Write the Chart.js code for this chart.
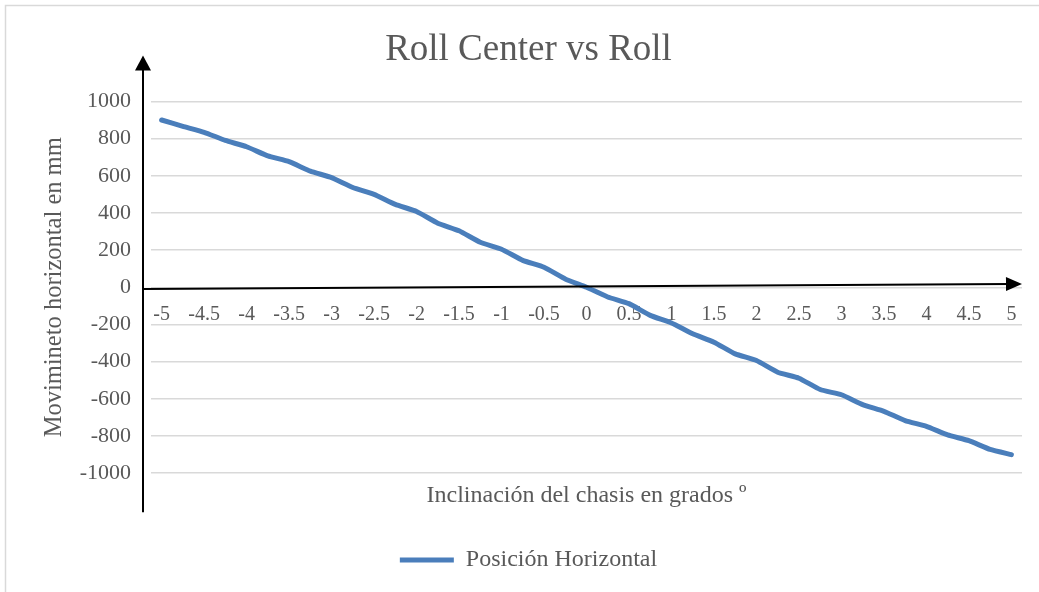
<!DOCTYPE html>
<html>
<head>
<meta charset="utf-8">
<script src="https://cdn.jsdelivr.net/npm/chart.js@4/dist/chart.umd.min.js"></script>
<style>
	html, body { margin: 0; padding: 0; background: #ffffff; }
	#wrap { width: 1039px; height: 592px; }
</style>
</head>
<body>
<div id="wrap"><canvas id="chart" width="1039" height="592"></canvas></div>
<script>
// grados de inclinación (cada 0.25)
const categories = [
	'-5', '-4.75', '-4.5', '-4.25', '-4', '-3.75', '-3.5', '-3.25', '-3', '-2.75',
	'-2.5', '-2.25', '-2', '-1.75', '-1.5', '-1.25', '-1', '-0.75', '-0.5', '-0.25',
	'0', '0.25', '0.5', '0.75', '1', '1.25', '1.5', '1.75', '2', '2.25',
	'2.5', '2.75', '3', '3.25', '3.5', '3.75', '4', '4.25', '4.5', '4.75', '5'
];

// etiquetas visibles del eje x (una de cada dos categorías)
const tickLabels = ['-5', '-4.5', '-4', '-3.5', '-3', '-2.5', '-2', '-1.5', '-1', '-0.5',
	'0', '0.5', '1', '1.5', '2', '2.5', '3', '3.5', '4', '4.5', '5'];

// movimiento horizontal del centro de balanceo, mm
const posicionHorizontal = [
	900, 866, 834, 790, 756, 707, 676, 625, 590, 537,
	500, 446, 408, 345, 304, 242, 205, 145, 108, 45,
	0, -52, -88, -151, -192, -250, -295, -358, -394, -457,
	-489, -550, -578, -631, -667, -717, -748, -794, -825, -872, -900
];

const yTicks = [1000, 800, 600, 400, 200, 0, -200, -400, -600, -800, -1000];

const serif = 'Liberation Serif, Times New Roman, serif';
const textColor = '#595959';

// fondo, borde del gráfico y flechas de los ejes
let decor = {
	id: 'decor',
	beforeDraw: (chart) => {
		let ctx = chart.ctx;
		ctx.save();
		ctx.fillStyle = '#ffffff';
		ctx.fillRect(0, 0, chart.width, chart.height);
		ctx.strokeStyle = '#d9d9d9';
		ctx.lineWidth = 1.5;
		ctx.strokeRect(5.5, 5.5, chart.width + 20, chart.height + 20);
		ctx.restore();
	},
	afterDatasetsDraw: (chart) => {
		let ctx = chart.ctx;
		let area = chart.chartArea;
		let y = chart.scales.y;
		let ax = area.left - 8;
		let zero = y.getPixelForValue(0);

		ctx.save();
		ctx.strokeStyle = '#000000';
		ctx.fillStyle = '#000000';
		ctx.lineWidth = 2;

		// eje vertical
		let top = y.getPixelForValue(1000) - 46;
		ctx.beginPath();
		ctx.moveTo(ax, y.getPixelForValue(-1000) + 39);
		ctx.lineTo(ax, top + 12);
		ctx.stroke();
		ctx.beginPath();
		ctx.moveTo(ax, top);
		ctx.lineTo(ax - 8, top + 15);
		ctx.lineTo(ax + 8, top + 15);
		ctx.closePath();
		ctx.fill();

		// eje horizontal (ligeramente inclinado, como en el original)
		let x0 = ax, y0 = zero + 1.6;
		let x1 = area.right, y1 = zero - 3.4;
		let ang = Math.atan2(y1 - y0, x1 - x0);
		ctx.beginPath();
		ctx.moveTo(x0, y0);
		ctx.lineTo(x1 - 12 * Math.cos(ang), y1 - 12 * Math.sin(ang));
		ctx.stroke();
		ctx.beginPath();
		ctx.moveTo(x1, y1);
		ctx.lineTo(x1 - 16 * Math.cos(ang) + 7 * Math.sin(ang), y1 - 16 * Math.sin(ang) - 7 * Math.cos(ang));
		ctx.lineTo(x1 - 16 * Math.cos(ang) - 7 * Math.sin(ang), y1 - 16 * Math.sin(ang) + 7 * Math.cos(ang));
		ctx.closePath();
		ctx.fill();
		ctx.restore();
	}
};

let data = {
	labels: categories,
	datasets: [{
		label: 'Posición Horizontal',
		data: posicionHorizontal,
		borderColor: '#4a7ebb',
		backgroundColor: '#4a7ebb',
		borderWidth: 5,
		borderCapStyle: 'round',
		borderJoinStyle: 'round',
		pointRadius: 0,
		pointHoverRadius: 0,
		tension: 0.15,
		xAxisID: 'x',
		yAxisID: 'y'
	}]
};

let config = {
	type: 'line',
	data: data,
	plugins: [decor],
	options: {
		responsive: false,
		animation: false,
		events: [],
		layout: { padding: { left: 35, right: 17, top: 0, bottom: 10 } },
		plugins: {
			title: {
				display: true,
				text: 'Roll Center vs Roll',
				color: textColor,
				font: { family: serif, size: 37, weight: 'normal' },
				padding: { top: 28, bottom: 29 }
			},
			legend: {
				display: true,
				position: 'bottom',
				labels: {
					usePointStyle: true,
					pointStyle: 'line',
					pointStyleWidth: 54,
					color: textColor,
					font: { family: serif, size: 24 },
					padding: 10
				}
			},
			tooltip: { enabled: false }
		},
		scales: {
			x: {
				type: 'category',
				position: { y: 0 },
				offset: true,
				grid: { display: false },
				border: { display: false },
				ticks: {
					autoSkip: false,
					maxRotation: 0,
					padding: 7,
					color: textColor,
					font: { family: serif, size: 20 },
					callback: (val, i) => (i % 2 === 0 ? tickLabels[i / 2] : null)
				}
			},
			x2: {
				type: 'category',
				position: 'bottom',
				offset: true,
				grid: { display: false },
				border: { display: false },
				ticks: { display: false },
				title: {
					display: true,
					text: 'Inclinación del chasis en grados º',
					color: textColor,
					font: { family: serif, size: 24 },
					padding: { top: 0, bottom: 28 }
				}
			},
			y: {
				min: -1000,
				max: 1000,
				afterFit: (scale) => { scale.width = 116; },
				afterBuildTicks: (scale) => { scale.ticks = yTicks.map(v => ({ value: v })); },
				grid: { color: '#d9d9d9', lineWidth: 1.5, drawTicks: false },
				border: { display: false },
				ticks: {
					padding: 20,
					color: textColor,
					font: { family: serif, size: 22 },
					callback: (val) => String(val)
				},
				title: {
					display: true,
					text: 'Movimineto horizontal en mm',
					color: textColor,
					font: { family: serif, size: 24.5 },
					padding: { top: 5, bottom: 0 }
				}
			}
		}
	}
};

let myChart = new Chart(
	document.getElementById('chart'),
	config
);
</script>
</body>
</html>
